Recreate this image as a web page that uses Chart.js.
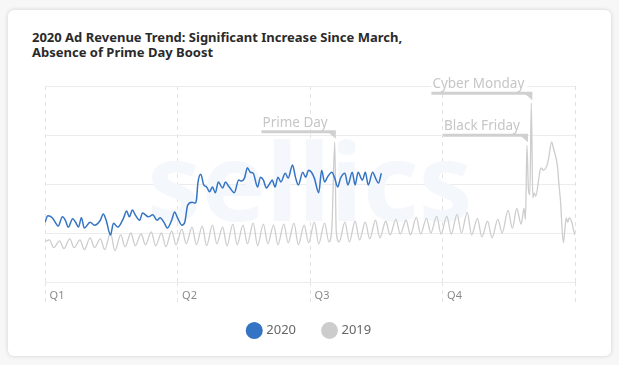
<!DOCTYPE html>
<html>
<head>
<meta charset="utf-8">
<script src="https://cdn.jsdelivr.net/npm/chart.js@4.4.0/dist/chart.umd.min.js"></script>
<style>
  html, body { margin: 0; padding: 0; background: #f7f7f7; }
  body { width: 619px; height: 365px; position: relative; overflow: hidden; font-family: "Noto Sans", sans-serif; }
  .card { position: absolute; left: 8px; top: 10px; width: 603px; height: 346px; background: #fff; border-radius: 6px; box-shadow: 0 0 4px rgba(0,0,0,0.16); }
  h1 { position: absolute; left: 32px; top: 30px; margin: 0; font-size: 13px; line-height: 15px; font-weight: 700; color: #2a2a2a; }
  .wrap { position: absolute; left: 0; top: 0; width: 619px; height: 365px; }
</style>
</head>
<body>
<div class="card"></div>
<h1>2020 Ad Revenue Trend: Significant Increase Since March,<br>Absence of Prime Day Boost</h1>
<div class="wrap"><canvas id="trendChart" width="619" height="365"></canvas></div>
<script>
// day of year (0 = Jan 1) and relative ad revenue
const days2020 = [0,2,5,7,9,12,14,16,19,21,23,25,27,31,34,38,40,42,45,47,50,54,56,58,60,62,65,67,71,74,77,79,82,84,87,89,91,94,96,98,101,103,104,105,107,109,111,113,115,117,119,122,124,126,128,130,133,135,137,139,141,143,146,148,150,152,155,156,158,160,162,165,167,170,172,174,177,179,181,183,185,188,190,192,194,197,199,201,203,206,208,211,213,215,218,220,222,225,227,229,231];
const revenue2020 = [122,135,131,122,114,133,126,112,129,122,112,131,110,122,116,126,139,126,96,120,112,131,145,133,147,137,126,141,133,137,126,131,120,110,126,143,131,116,122,157,163,161,167,202,220,198,194,184,194,182,204,192,204,196,188,182,208,206,212,233,224,222,194,214,208,192,204,208,194,214,204,222,212,239,214,198,224,214,228,224,212,182,228,204,214,224,212,194,212,222,198,224,198,224,208,224,198,224,212,202,222];

const days2019 = [0,3,6,10,13,17,20,24,27,31,34,38,41,45,48,52,55,59,62,66,69,73,76,80,83,87,90,94,97,101,104,108,111,115,118,122,125,129,132,136,139,143,146,150,153,157,160,164,167,171,174,178,181,185,188,192,195,197,199,200,202,206,209,213,216,220,223,227,230,234,237,241,244,248,251,255,258,262,265,269,272,276,279,283,286,290,293,297,300,304,307,311,314,318,321,324,327,329,330,331,332,333,334,335,336,337,339,340,341,342,345,346,348,349,352,353,354,356,357,358,359,360,362,363,364];
const revenue2019 = [82,86,70,84,68,88,70,86,66,90,70,88,66,100,64,96,72,100,74,98,76,102,74,100,72,104,76,108,78,112,76,114,74,116,78,112,74,118,76,116,78,120,74,118,78,116,76,118,80,120,76,116,80,122,78,120,82,110,286,104,82,122,82,124,86,122,88,126,90,124,96,128,98,126,96,132,98,130,100,134,98,134,98,138,100,142,96,130,92,124,90,128,100,146,110,150,118,150,128,279,190,178,365,172,182,175,208,228,233,228,240,255,286,275,235,198,167,80,106,131,122,131,120,106,96];

const quarterLabels = ["Q1", "Q2", "Q3", "Q4"];
const eventNames = ["Prime Day", "Black Friday", "Cyber Monday"];
const eventDays = [199, 331, 334];

const BLUE = "#3574c4";
const GREY = "#cdcdcd";
const FONT = '"Noto Sans", sans-serif';

function toPoints(days, values) {
  return days.map((d, i) => ({ x: d, y: values[i] }));
}

// faint logo behind the lines
const watermark = {
  id: "watermark",
  beforeDatasetsDraw(chart) {
    const { ctx, chartArea } = chart;
    ctx.save();
    ctx.font = "bold 108px " + FONT;
    ctx.fillStyle = "#f4f7fb";
    ctx.textAlign = "center";
    ctx.textBaseline = "middle";
    ctx.fillText("sellics", (chartArea.left + chartArea.right) / 2, 190);
    ctx.restore();
  },
};

// flag labels pointing at the 2019 spikes
const eventFlags = {
  id: "eventFlags",
  afterDatasetsDraw(chart) {
    const { ctx } = chart;
    const xs = chart.scales.x;
    const ys = chart.scales.y;
    ctx.save();
    ctx.font = "13.5px " + FONT;
    eventNames.forEach((name, i) => {
      const value = revenue2019[days2019.indexOf(eventDays[i])];
      const px = xs.getPixelForValue(eventDays[i]);
      const barY = ys.getPixelForValue(value) - 10;
      const tw = ctx.measureText(name).width;
      const left = px - tw - 8;

      ctx.fillStyle = "#fff";
      ctx.fillRect(left, barY - 17, tw + 4, 14);
      ctx.fillStyle = "#c6c6c6";
      ctx.textBaseline = "alphabetic";
      ctx.fillText(name, left + 1, barY - 5);

      ctx.strokeStyle = "#d0d0d0";
      ctx.lineWidth = 3;
      ctx.beginPath();
      ctx.moveTo(left, barY);
      ctx.lineTo(px + 1, barY);
      ctx.stroke();

      ctx.fillStyle = "#d0d0d0";
      ctx.beginPath();
      ctx.moveTo(px - 7, barY);
      ctx.lineTo(px + 1, barY);
      ctx.lineTo(px + 1, barY + 7);
      ctx.closePath();
      ctx.fill();
    });
    ctx.restore();
  },
};

// nudge the legend row a little closer to the axis
const legendNudge = {
  id: "legendNudge",
  afterLayout(chart) {
    if (chart.legend) {
      chart.legend.top -= 10;
      chart.legend.bottom -= 10;
    }
  },
};

const ctx = document.getElementById("trendChart").getContext("2d");
new Chart(ctx, {
  type: "line",
  data: {
    datasets: [
      {
        label: "2020",
        data: toPoints(days2020, revenue2020),
        borderColor: BLUE,
        backgroundColor: BLUE,
        borderWidth: 1.5,
        pointRadius: 0,
        cubicInterpolationMode: "monotone",
      },
      {
        label: "2019",
        data: toPoints(days2019, revenue2019),
        borderColor: GREY,
        backgroundColor: "#cccccc",
        borderWidth: 1.3,
        pointRadius: 0,
        cubicInterpolationMode: "monotone",
      },
    ],
  },
  options: {
    responsive: false,
    animation: false,
    layout: { padding: { left: 45, right: 44, top: 86, bottom: 8 } },
    scales: {
      x: {
        type: "linear",
        min: 0,
        max: 364,
        afterFit: (axis) => { axis.height = 24; },
        grid: { color: "#e3e3e3", tickLength: 20, tickBorderDash: [4, 4] },
        border: { display: false, dash: [4, 4] },
        ticks: {
          stepSize: 91,
          autoSkip: false,
          maxRotation: 0,
          padding: -13,
          labelOffset: 12,
          color: "#8a8a8a",
          font: { family: FONT, size: 11 },
          callback: (value, index) => quarterLabels[index] || "",
        },
      },
      y: {
        min: 0,
        max: 400,
        afterFit: (axis) => { axis.width = 0; },
        grid: { color: "#ececec", drawTicks: false },
        border: { display: false },
        ticks: { stepSize: 100, display: false },
      },
    },
    plugins: {
      legend: {
        position: "bottom",
        labels: {
          usePointStyle: true,
          pointStyle: "circle",
          boxWidth: 11,
          boxHeight: 11,
          padding: 28,
          color: "#666",
          font: { family: FONT, size: 13 },
        },
      },
      tooltip: { enabled: false },
    },
  },
  plugins: [watermark, eventFlags, legendNudge],
});
</script>
</body>
</html>
